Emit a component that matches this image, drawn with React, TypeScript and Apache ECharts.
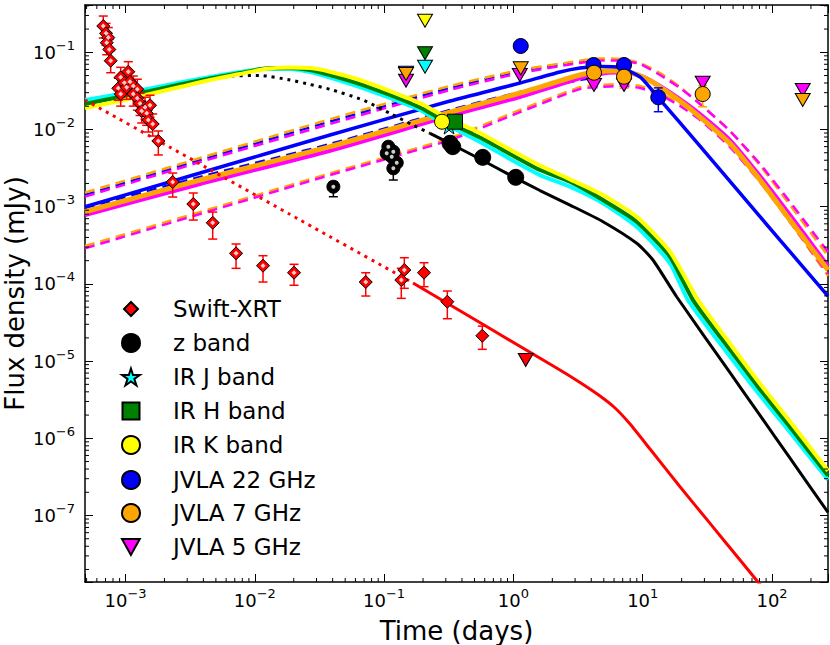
import React, { useEffect, useRef } from "react";
import * as echarts from "echarts";

const FONT = "DejaVu Sans";
const X_MIN = 4.86e-4;
const X_MAX = 271;
const Y_MIN = 1.377e-8;
const Y_MAX = 0.41;
const X_LABEL_EXPS = [-3, -2, -1, 0, 1, 2];
const Y_LABEL_EXPS = [-7, -6, -5, -4, -3, -2, -1];
const MINOR_MANTISSAS = [2, 3, 4, 5, 6, 7, 8, 9];
const X_DECADES = [1e-4, 1e-3, 1e-2, 1e-1, 1, 10, 100];
const Y_DECADES = [1e-8, 1e-7, 1e-6, 1e-5, 1e-4, 1e-3, 1e-2, 1e-1];

// ---------- Swift-XRT ----------
const xrtOpenT = [6.73e-4, 7.07e-4, 7.36e-4, 7.16e-4, 7.49e-4, 7.68e-4, 9.18e-4, 1.051e-3, 8.79e-4, 9.18e-4, 9.79e-4, 1.021e-3, 1.083e-3, 1.149e-3, 1.234e-3, 1.149e-3, 1.234e-3, 1.295e-3, 1.415e-3, 1.547e-3, 1.334e-3, 1.459e-3, 1.501e-3, 1.623e-3, 1.794e-3, 2.317e-3, 3.344e-3, 4.725e-3, 7.16e-3, 0.01157, 0.0201, 0.0721, 0.1433, 0.1358];
const xrtOpenF = [0.219, 0.176, 0.155, 0.133, 0.109, 0.0778, 0.0474, 0.0561, 0.0342, 0.0288, 0.0404, 0.0352, 0.0416, 0.0366, 0.0332, 0.0288, 0.0254, 0.0218, 0.0194, 0.0206, 0.01737, 0.01621, 0.01328, 0.01178, 7.1e-3, 2.089e-3, 1.084e-3, 6.2e-4, 2.49e-4, 1.721e-4, 1.397e-4, 1.058e-4, 1.514e-4, 1.123e-4];
const xrtOpenHi = [0.295, 0.237, 0.209, 0.179, 0.147, 0.105, 0.0639, 0.0756, 0.0461, 0.0388, 0.0545, 0.0474, 0.0561, 0.0493, 0.0448, 0.0388, 0.0342, 0.0294, 0.0262, 0.0278, 0.0234, 0.0219, 0.0179, 0.0159, 9.57e-3, 2.73e-3, 1.505e-3, 8.53e-4, 3.29e-4, 2.32e-4, 1.795e-4, 1.397e-4, 2.185e-4, 1.592e-4];
const xrtOpenLo = [0.153, 0.123, 0.108, 0.093, 0.0762, 0.0544, 0.0331, 0.0392, 0.0239, 0.0201, 0.0282, 0.0246, 0.0291, 0.0256, 0.0232, 0.0201, 0.0178, 0.0152, 0.0136, 0.0144, 0.01214, 0.01133, 0.00928, 0.00823, 4.68e-3, 1.335e-3, 6.72e-4, 3.81e-4, 1.591e-4, 1.058e-4, 9.6e-5, 6.97e-5, 8.77e-5, 6.5e-5];
const xrtT = [0.2035, 0.3082, 0.5746];
const xrtF = [1.397e-4, 5.88e-5, 2.13e-5];
const xrtHi = [1.883e-4, 8.09e-5, 2.84e-5];
const xrtLo = [9.21e-5, 3.54e-5, 1.421e-5];
const xrtLimT = [1.245];
const xrtLimF = [1.033e-5];

// ---------- z band ----------
const zOpenT = [0.0405, 0.1078, 0.1178, 0.1047, 0.1145, 0.1252, 0.1178];
const zOpenF = [1.816e-3, 5.99e-3, 5.16e-3, 4.92e-3, 4.44e-3, 3.715e-3, 3.144e-3];
const zErrT = [0.0405, 0.1178];
const zErrLo = [1.347e-3, 2.217e-3];
const zErrHi = [2.1e-3, 3.6e-3];
const zT = [0.3234, 0.3393, 0.5789, 1.042];
const zF = [6.63e-3, 5.99e-3, 4.36e-3, 2.403e-3];

// ---------- IR ----------
const jT = [0.3177];
const jF = [0.0111];
const hT = [0.3534];
const hF = [0.01262];
const kT = [0.2804];
const kF = [0.01262];
const irLimT = [0.2072];
const kLimF = [0.2566];
const hLimF = [0.097];
const jLimF = [0.0651];

// ---------- Radio ----------
const b22T = [1.139, 4.164, 7.17, 13.2];
const b22F = [0.1207, 0.0685, 0.0685, 0.02614];
const b22LimT = [0.1477];
const b22LimF = [0.0545];
const b22ErrT = [4.164, 7.17, 13.2];
const b22ErrLo = [0.058, 0.058, 0.017];
const b22ErrHi = [0.08, 0.08, 0.0346];
const o7T = [4.2, 7.17, 29.1];
const o7F = [0.0544, 0.0483, 0.0288];
const o7LimT = [0.1477, 1.139, 172.8];
const o7LimF = [0.0523, 0.062, 0.0241];
const o7ErrT = [4.2, 7.17, 29.1];
const o7ErrLo = [0.042, 0.0342, 0.0197];
const o7ErrHi = [0.065, 0.058, 0.037];
const m5T = [0.1477, 1.12, 4.2, 7.17, 29.1, 172.8];
const m5F = [0.0429, 0.0508, 0.0377, 0.0377, 0.0404, 0.0325];

// ---------- Models ----------
const cyanT = [4.86e-4, 9.07e-4, 1.547e-3, 2.638e-3, 4.5e-3, 7.68e-3, 0.01199, 0.01872, 0.02673, 0.03817, 0.0651, 0.111, 0.1895, 0.2804, 0.5517, 0.9412, 1.606, 2.74, 4.93, 8.99, 16.26, 22.4, 47.34, 80.8, 137.8, 271];
const cyanF = [0.0241, 0.0288, 0.034, 0.0406, 0.0479, 0.0556, 0.0608, 0.0608, 0.0556, 0.0472, 0.0355, 0.0256, 0.0179, 0.0123, 0.00689, 0.00415, 0.00257, 0.00182, 0.00111, 5.51e-4, 1.85e-4, 6.18e-5, 1.15e-5, 3.6e-6, 1.2e-6, 2.9e-7];
const greenT = [4.86e-4, 9.07e-4, 1.547e-3, 2.638e-3, 4.5e-3, 7.68e-3, 0.01199, 0.01872, 0.02673, 0.03817, 0.0651, 0.111, 0.1895, 0.2804, 0.5517, 0.9412, 1.606, 2.74, 4.93, 8.99, 16.26, 24.5, 47.34, 80.8, 137.8, 271];
const greenF = [0.0214, 0.0264, 0.0315, 0.0383, 0.0458, 0.0539, 0.0617, 0.0626, 0.059, 0.0508, 0.0388, 0.028, 0.0193, 0.0135, 0.00787, 0.00482, 0.00299, 0.00211, 0.00122, 6.4e-4, 2.25e-4, 6.18e-5, 1.4e-5, 4.3e-6, 1.4e-6, 3.3e-7];
const yellowT = [4.86e-4, 9.07e-4, 1.547e-3, 2.638e-3, 4.5e-3, 7.68e-3, 0.01199, 0.01872, 0.02673, 0.03817, 0.0651, 0.111, 0.1895, 0.2804, 0.5517, 0.9412, 1.606, 2.74, 4.93, 8.99, 16.26, 26.8, 47.34, 80.8, 137.8, 271];
const yellowF = [0.019, 0.0234, 0.0288, 0.0355, 0.0438, 0.0523, 0.0608, 0.0636, 0.0626, 0.0561, 0.0438, 0.0315, 0.022, 0.0154, 0.00901, 0.00551, 0.00342, 0.00226, 0.00142, 7.41e-4, 2.61e-4, 6.18e-5, 1.68e-5, 5.1e-6, 1.65e-6, 3.8e-7];
const zModelT = [0.2265, 0.3234, 0.5517, 0.9412, 1.606, 2.74, 4.93, 8.99, 12.0, 18.3, 47.34, 80.8, 137.8, 271];
const zModelF = [0.00893, 0.00659, 0.00415, 0.00257, 0.00162, 0.00105, 6.4e-4, 3.36e-4, 2.04e-4, 6.82e-5, 7.08e-6, 1.98e-6, 5.53e-7, 1.1e-7];
const zEarlyT = [4.34e-3, 6.43e-3, 0.01097, 0.01872, 0.02673, 0.03817, 0.0687, 0.111, 0.1673, 0.2265];
const zEarlyF = [0.0451, 0.0493, 0.0501, 0.0438, 0.0383, 0.0332, 0.0241, 0.0162, 0.0114, 0.00893];
const xEarlyT = [4.86e-4, 3.77e-3, 0.02236, 0.1673];
const xEarlyF = [0.0241, 0.00357, 0.000673, 0.000103];
const xLateT = [0.1673, 2.174, 3.274, 4.675, 6.108, 7.98, 11.39, 19.43, 33.16, 56.56, 96.5];
const xLateF = [1.03e-4, 8.07e-6, 5.28e-6, 3.53e-6, 2.47e-6, 1.53e-6, 7.26e-7, 2.36e-7, 7.91e-8, 2.65e-8, 8.9e-9];
const tRad = [4.86e-4, 3.77e-3, 0.03817, 0.3234, 1.125, 3.274, 4.675, 6.108, 7.98, 10.42, 13.61, 19.43, 27.75, 47.34, 80.8, 137.8, 271];
const orangeF = [0.000861, 0.00222, 0.00599, 0.0168, 0.0297, 0.0508, 0.0564, 0.0578, 0.0547, 0.0465, 0.0355, 0.0234, 0.0145, 0.00659, 0.00222, 0.000673, 0.000151];
const magentaF = [0.000781, 0.00197, 0.00531, 0.015, 0.0264, 0.046, 0.0523, 0.0547, 0.0539, 0.0472, 0.0366, 0.0248, 0.0159, 0.00731, 0.0025, 0.000781, 0.000171];
const tRadBand = [4.86e-4, 3.77e-3, 0.03817, 0.3234, 1.125, 3.274, 4.675, 6.675, 9.53, 13.61, 19.43, 27.75, 47.34, 80.8, 137.8, 271];
const orangeHiF = [0.00152, 0.00427, 0.0136, 0.0366, 0.059, 0.0778, 0.0831, 0.0819, 0.0727, 0.0539, 0.0355, 0.0214, 0.00956, 0.00342, 0.00105, 0.00023];
const magentaHiF = [0.00135, 0.00379, 0.0118, 0.0325, 0.0539, 0.0727, 0.0783, 0.0783, 0.0705, 0.0508, 0.0345, 0.0214, 0.00956, 0.00357, 0.00115, 0.000259];
const orangeLoF = [0.00031, 0.000853, 0.00271, 0.00776, 0.0179, 0.0352, 0.0377, 0.0388, 0.0366, 0.0297, 0.0214, 0.0141, 0.00611, 0.00215, 0.000633, 0.000127];
const magentaLoF = [0.000289, 0.000804, 0.00257, 0.00731, 0.0168, 0.0335, 0.0355, 0.0366, 0.0345, 0.028, 0.0202, 0.0133, 0.00593, 0.00209, 0.000633, 0.000134];
const tBlue = [4.86e-4, 3.77e-3, 0.03817, 0.3234, 1.125, 2.293, 3.274, 4.675, 6.675, 9.53, 13.13, 27.75, 56.56, 115.3, 271];
const blueF = [0.001, 0.00273, 0.00848, 0.0234, 0.04, 0.0556, 0.0626, 0.0655, 0.0636, 0.0479, 0.0261, 0.00611, 0.0015, 0.00037, 6.97e-5];
const tBlueBand = [4.86e-4, 3.77e-3, 0.03817, 0.3234, 1.125, 3.274, 4.675];
const blueHiF = [0.00142, 0.00402, 0.0127, 0.0345, 0.0573, 0.0749, 0.0795];
const blueLoF = [0.000962, 0.00243, 0.00649, 0.0179, 0.0306, 0.0438, 0.0479];

const STAR = "path://M50,0 L61.2,34.5 L97.6,34.5 L68.2,55.9 L79.4,90.5 L50,69.1 L20.6,90.5 L31.8,55.9 L2.4,34.5 L38.8,34.5 Z";
const DOWN_TRI = "path://M0,0 L20,0 L10,18 Z";

const pairs = (t: number[], f: number[]) => t.map((x, i) => [x, f[i]]);

function lineS(t: number[], f: number[], color: string, width: number, type: any, z: number) {
  return {
    type: "line",
    data: pairs(t, f),
    showSymbol: false,
    symbol: "none",
    smooth: 0.2,
    silent: true,
    z,
    lineStyle: { color, width, type, cap: "butt" },
  };
}

function errS(t: number[], lo: number[], hi: number[], color: string) {
  return {
    type: "custom",
    silent: true,
    z: 4,
    data: t.map((x, i) => [x, lo[i], hi[i]]),
    encode: { x: 0, y: [1, 2] },
    renderItem: (params: any, api: any) => {
      const x = api.value(0);
      const a = api.coord([x, api.value(1)]);
      const b = api.coord([x, api.value(2)]);
      const c = 4.5;
      const st = { stroke: color, lineWidth: 1.5 };
      return {
        type: "group",
        children: [
          { type: "line", shape: { x1: a[0], y1: a[1], x2: b[0], y2: b[1] }, style: st },
          { type: "line", shape: { x1: a[0] - c, y1: a[1], x2: a[0] + c, y2: a[1] }, style: st },
          { type: "line", shape: { x1: b[0] - c, y1: b[1], x2: b[0] + c, y2: b[1] }, style: st },
        ],
      };
    },
  };
}

function scatS(name: string, t: number[], f: number[], symbol: string, size: any, color: string, z: number, extra: any = {}) {
  return {
    type: "scatter",
    name,
    data: pairs(t, f),
    symbol,
    symbolSize: size,
    z,
    silent: true,
    itemStyle: { color, borderColor: "#000", borderWidth: 1, opacity: 1 },
    ...extra,
  };
}

const legendRows = [
  { name: "Swift-XRT", y: 309, w: 14, h: 14 },
  { name: "z band", y: 343, w: 18, h: 18 },
  { name: "IR J band", y: 377, w: 18, h: 17 },
  { name: "IR H band", y: 411, w: 17, h: 17 },
  { name: "IR K band", y: 445, w: 18, h: 18 },
  { name: "JVLA 22 GHz", y: 480, w: 18, h: 18 },
  { name: "JVLA 7 GHz", y: 513, w: 18, h: 18 },
  { name: "JVLA 5 GHz", y: 547, w: 18, h: 16 },
];

function labelFmt(exps: number[]) {
  return (v: number) => {
    const l = Math.log10(v);
    const e = Math.round(l);
    if (Math.abs(l - e) > 1e-6 || !exps.includes(e)) return "";
    return `{b|10}{s|${e < 0 ? "\u2212" : ""}${Math.abs(e)}}`;
  };
}

const rich = {
  b: { fontSize: 18, fontFamily: FONT, color: "#000", lineHeight: 20 },
  s: { fontSize: 13, fontFamily: FONT, color: "#000", lineHeight: 13, padding: [0, 0, 14, 0] },
};

function buildOption() {
  const minorX: number[] = [];
  X_DECADES.forEach((d) => MINOR_MANTISSAS.forEach((m) => { const v = d * m; if (v > X_MIN && v < X_MAX) minorX.push(v); }));
  const minorY: number[] = [];
  Y_DECADES.forEach((d) => MINOR_MANTISSAS.forEach((m) => { const v = d * m; if (v > Y_MIN && v < Y_MAX) minorY.push(v); }));

  const axisCommon = {
    type: "log",
    logBase: 10,
    splitLine: { show: false },
    axisLine: { show: true, onZero: false, lineStyle: { color: "#000", width: 1.5 } },
    axisTick: { show: true, inside: true, length: 8, lineStyle: { color: "#000", width: 1 } },
  };

  const minorXSeries = {
    type: "custom",
    silent: true,
    z: 10,
    data: minorX.map((v) => [v, 1e-3]),
    renderItem: (params: any, api: any) => {
      const cs = params.coordSys;
      const x = api.coord([api.value(0), 1e-3])[0];
      const st = { stroke: "#000", lineWidth: 1 };
      return {
        type: "group",
        children: [
          { type: "line", shape: { x1: x, y1: cs.y + cs.height, x2: x, y2: cs.y + cs.height - 4 }, style: st },
          { type: "line", shape: { x1: x, y1: cs.y, x2: x, y2: cs.y + 4 }, style: st },
        ],
      };
    },
  };
  const minorYSeries = {
    type: "custom",
    silent: true,
    z: 10,
    data: minorY.map((v) => [1e-2, v]),
    renderItem: (params: any, api: any) => {
      const cs = params.coordSys;
      const y = api.coord([1e-2, api.value(1)])[1];
      const st = { stroke: "#000", lineWidth: 1 };
      return {
        type: "group",
        children: [
          { type: "line", shape: { x1: cs.x, y1: y, x2: cs.x + 4, y2: y }, style: st },
          { type: "line", shape: { x1: cs.x + cs.width, y1: y, x2: cs.x + cs.width - 4, y2: y }, style: st },
        ],
      };
    },
  };

  const DASH = [10, 6];
  const DOT = [3, 5];
  const TRI = [15, 13];

  return {
    animation: false,
    backgroundColor: "#fff",
    textStyle: { fontFamily: FONT },
    grid: { left: 85, right: 2, top: 5, bottom: 63, containLabel: false, outerBoundsMode: "none" },
    xAxis: [
      {
        ...axisCommon,
        min: X_MIN,
        max: X_MAX,
        position: "bottom",
        axisLabel: { formatter: labelFmt(X_LABEL_EXPS), margin: 8, rich, color: "#000" },
        name: "Time (days)",
        nameLocation: "middle",
        nameGap: 30,
        nameTextStyle: { fontSize: 26, fontFamily: FONT, color: "#000" },
      },
      { ...axisCommon, min: X_MIN, max: X_MAX, position: "top", axisLabel: { show: false } },
    ],
    yAxis: [
      {
        ...axisCommon,
        min: Y_MIN,
        max: Y_MAX,
        position: "left",
        axisLabel: { formatter: labelFmt(Y_LABEL_EXPS), margin: 10, rich, color: "#000" },
        name: "Flux density (mJy)",
        nameLocation: "middle",
        nameGap: 57,
        nameMoveOverlap: false,
        nameTextStyle: { fontSize: 26, fontFamily: FONT, color: "#000" },
      },
      { ...axisCommon, min: Y_MIN, max: Y_MAX, position: "right", axisLabel: { show: false } },
    ],
    legend: legendRows.map((r) => ({
      data: [r.name],
      orient: "vertical",
      left: 130 - r.w / 2,
      top: r.y - 12,
      padding: 0,
      itemGap: 0,
      itemWidth: r.w,
      itemHeight: r.h,
      selectedMode: false,
      textStyle: { fontSize: 23, fontFamily: FONT, color: "#000", lineHeight: 24, padding: [0, 0, 0, 37 - r.w / 2] },
    })),
    series: [
      // radio models
      lineS(tBlueBand, blueHiF, "#0000ff", 2.5, DASH, 1),
      lineS(tBlueBand, blueLoF, "#0000ff", 2.5, DASH, 1),
      lineS(tRadBand, orangeHiF, "#ffa500", 2.5, DASH, 1),
      lineS(tRadBand, magentaHiF, "#ff00ff", 2.5, DASH, 1),
      lineS(tRadBand, orangeLoF, "#ffa500", 2.5, DASH, 1),
      lineS(tRadBand, magentaLoF, "#ff00ff", 2.5, DASH, 1),
      lineS(tRad, magentaF, "#ff00ff", 4, "solid", 2),
      lineS(tRad, orangeF, "#ffa500", 5, "solid", 2),
      lineS(tBlue, blueF, "#0000ff", 3.5, "solid", 2),
      // optical / x-ray models
      lineS(zEarlyT, zEarlyF, "#000", 3, DOT, 2),
      lineS(zModelT, zModelF, "#000", 3, "solid", 2),
      lineS(cyanT, cyanF, "#00ffff", 4, "solid", 2),
      lineS(greenT, greenF, "#008000", 4, "solid", 2),
      lineS(yellowT, yellowF, "#ffff00", 4, "solid", 2),
      lineS(xEarlyT, xEarlyF, "#ff0000", 3, DOT, 2),
      lineS(xLateT, xLateF, "#ff0000", 3, "solid", 2),
      // error bars
      errS(xrtOpenT, xrtOpenLo, xrtOpenHi, "#ff0000"),
      errS(xrtT, xrtLo, xrtHi, "#ff0000"),
      errS(zErrT, zErrLo, zErrHi, "#000"),
      errS(b22ErrT, b22ErrLo, b22ErrHi, "#0000ff"),
      errS(o7ErrT, o7ErrLo, o7ErrHi, "#ffa500"),
      // points
      scatS("Swift-XRT", xrtT, xrtF, "diamond", 13, "#ff0000", 6),
      scatS("xrt-open", xrtOpenT, xrtOpenF, "diamond", 13, "#ff0000", 6),
      scatS("xrt-open-c", xrtOpenT, xrtOpenF, "diamond", 5, "#fff", 7, { itemStyle: { color: "#fff", borderWidth: 0 } }),
      scatS("xrt-lim", xrtLimT, xrtLimF, DOWN_TRI, TRI, "#ff0000", 6),
      scatS("z-open", zOpenT, zOpenF, "circle", 13, "#000", 6),
      scatS("z-open-c", zOpenT, zOpenF, "circle", 4, "#fff", 7, { itemStyle: { color: "#fff", borderWidth: 0 } }),
      scatS("z band", zT, zF, "circle", 16, "#000", 6),
      scatS("IR J band", jT, jF, STAR, 16, "#00ffff", 6),
      scatS("IR H band", hT, hF, "rect", 15, "#008000", 6),
      scatS("IR K band", kT, kF, "circle", 15, "#ffff00", 6),
      scatS("ir-lim-k", irLimT, kLimF, DOWN_TRI, TRI, "#ffff00", 6),
      scatS("ir-lim-h", irLimT, hLimF, DOWN_TRI, TRI, "#008000", 6),
      scatS("ir-lim-j", irLimT, jLimF, DOWN_TRI, TRI, "#00ffff", 6),
      scatS("JVLA 5 GHz", m5T, m5F, DOWN_TRI, TRI, "#ff00ff", 6),
      scatS("b22-lim", b22LimT, b22LimF, DOWN_TRI, TRI, "#0000ff", 6),
      scatS("JVLA 22 GHz", b22T, b22F, "circle", 15, "#0000ff", 6),
      scatS("o7-lim", o7LimT, o7LimF, DOWN_TRI, TRI, "#ffa500", 6),
      scatS("JVLA 7 GHz", o7T, o7F, "circle", 15, "#ffa500", 6),
      minorXSeries,
      minorYSeries,
    ],
  };
}

export default function App() {
  const ref = useRef<HTMLDivElement>(null);
  useEffect(() => {
    const chart = echarts.init(ref.current!, null, { renderer: "svg" });
    chart.setOption(buildOption() as any);
    return () => chart.dispose();
  }, []);
  return <div ref={ref} style={{ position: "absolute", left: 0, top: 0, width: 830, height: 645 }} />;
}
